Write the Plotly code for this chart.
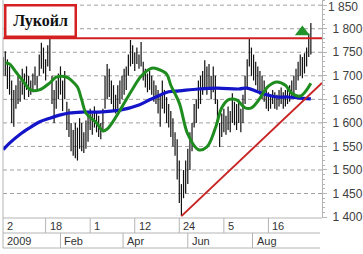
import plotly.graph_objects as go
import pandas as pd

# ---------------- data ----------------
start_date = "2008-12-09"
highs = [1740, 1752, 1735, 1720, 1690, 1670, 1680, 1700, 1690, 1715,
         1705, 1720, 1700, 1690, 1705, 1720, 1700, 1745, 1770, 1760,
         1735, 1765, 1782, 1700, 1670, 1690, 1705, 1720, 1690, 1710,
         1645, 1630, 1600, 1585, 1600, 1590, 1610, 1600, 1580, 1605,
         1625, 1630, 1620, 1635, 1625, 1615, 1600, 1630, 1700, 1725,
         1715, 1690, 1680, 1660, 1680, 1690, 1700, 1715, 1720, 1745,
         1776, 1765, 1750, 1760, 1745, 1772, 1730, 1715, 1705, 1710,
         1700, 1690, 1680, 1670, 1660, 1690, 1670, 1655, 1640, 1625,
         1610, 1580, 1565, 1520, 1470, 1500, 1520, 1545, 1580, 1600,
         1640, 1650, 1690, 1700, 1710, 1733, 1720, 1725, 1700, 1720,
         1700, 1650, 1600, 1620, 1630, 1615, 1635, 1625, 1663, 1645,
         1640, 1650, 1630, 1660, 1700, 1735, 1780, 1760, 1745, 1730,
         1720, 1710, 1700, 1690, 1670, 1665, 1660, 1670, 1665, 1660,
         1670, 1675, 1665, 1670, 1675, 1680, 1690, 1700, 1715, 1730,
         1745, 1740, 1748, 1760, 1790, 1812]
lows = [1700, 1700, 1672, 1660, 1600, 1592, 1630, 1640, 1645, 1660,
        1650, 1670, 1655, 1660, 1665, 1680, 1670, 1700, 1715, 1705,
        1690, 1720, 1710, 1640, 1600, 1630, 1650, 1660, 1625, 1650,
        1585, 1570, 1540, 1530, 1525, 1520, 1545, 1540, 1536, 1545,
        1560, 1585, 1575, 1590, 1580, 1570, 1565, 1580, 1630, 1650,
        1655, 1640, 1625, 1620, 1630, 1640, 1650, 1660, 1670, 1700,
        1720, 1725, 1710, 1725, 1715, 1720, 1690, 1675, 1665, 1670,
        1660, 1645, 1640, 1620, 1592, 1630, 1620, 1600, 1590, 1570,
        1550, 1530, 1480, 1430, 1402, 1440, 1450, 1470, 1500, 1540,
        1590, 1600, 1630, 1640, 1660, 1675, 1660, 1670, 1650, 1665,
        1640, 1600, 1549, 1570, 1580, 1575, 1585, 1580, 1600, 1595,
        1585, 1600, 1580, 1600, 1640, 1670, 1720, 1700, 1690, 1680,
        1670, 1660, 1650, 1645, 1630, 1625, 1630, 1640, 1630, 1628,
        1635, 1640, 1630, 1635, 1640, 1645, 1655, 1660, 1670, 1690,
        1700, 1695, 1705, 1720, 1740, 1745]

# moving averages (bar index -> value)
green_idx = [1, 3, 6, 9, 13, 17, 22, 25, 30, 32, 35, 37, 39, 44, 47, 49, 51,
             56, 61, 65, 70, 73, 77, 79, 83, 87, 92, 96, 100, 103, 106, 110,
             114, 117, 120, 125, 129, 133, 136, 140, 143, 145]
green_val = [1727, 1725, 1708, 1691, 1670, 1670, 1685, 1697, 1697, 1691, 1676,
             1649, 1621, 1600, 1583, 1587, 1598, 1634, 1672, 1699, 1716, 1714,
             1704, 1680, 1642, 1576, 1543, 1549, 1589, 1632, 1649, 1649, 1632,
             1632, 1646, 1678, 1687, 1680, 1663, 1657, 1670, 1684]
blue_idx = [0, 3, 8, 13, 17, 22, 27, 31, 37, 45, 55, 64, 69, 72, 78, 83, 92,
            101, 111, 115, 120, 125, 129, 134, 139, 145]
blue_val = [1543, 1557, 1576, 1591, 1602, 1610, 1617, 1621, 1623, 1623, 1627,
            1638, 1649, 1655, 1666, 1668, 1672, 1674, 1672, 1674, 1666, 1659,
            1655, 1655, 1653, 1651]

resistance = 1780
support_start_idx = 84
support_start_val = 1402
support_end_val = 1685
signal_idx = 141
signal_val = 1793

title_text = "Лукойл"
x_range = ["2008-12-08 20:00", "2009-10-05 12:00"]
y_range = [1398, 1861]
y_ticks = [1400, 1450, 1500, 1550, 1600, 1650, 1700, 1750, 1800, 1850]
day_ticks = [("2", None), ("18", "2009-01-18"), ("1", "2009-03-01"),
             ("12", "2009-04-12"), ("24", "2009-05-24"), ("5", "2009-07-05"),
             ("16", "2009-08-16")]
month_ticks = [("2009", None), ("Feb", "2009-02-01"), ("Apr", "2009-04-01"),
               ("Jun", "2009-06-01"), ("Aug", "2009-08-01")]

# ---------------- figure ----------------
dates = pd.date_range(start_date, periods=len(highs), freq="2D")

bx, by = [], []
for d, h, l in zip(dates, highs, lows):
    bx += [d, d, None]
    by += [l, h, None]

fig = go.Figure()
fig.add_trace(go.Scatter(x=bx, y=by, mode="lines",
                         line=dict(color="#111111", width=1.2),
                         hoverinfo="skip", showlegend=False))
fig.add_trace(go.Scatter(x=[dates[i] for i in blue_idx], y=blue_val, mode="lines",
                         line=dict(color="#1414c8", width=3.2, shape="spline"),
                         showlegend=False))
fig.add_trace(go.Scatter(x=[dates[i] for i in green_idx], y=green_val, mode="lines",
                         line=dict(color="#1e8c1e", width=3, shape="spline"),
                         showlegend=False))
fig.add_trace(go.Scatter(x=x_range, y=[resistance, resistance], mode="lines",
                         line=dict(color="#d02020", width=2), showlegend=False))
fig.add_trace(go.Scatter(x=[dates[support_start_idx], x_range[1]],
                         y=[support_start_val, support_end_val], mode="lines",
                         line=dict(color="#c82424", width=2), showlegend=False))
fig.add_trace(go.Scatter(x=[dates[signal_idx]], y=[signal_val], mode="markers",
                         marker=dict(symbol="triangle-up", size=13, color="#22922a"),
                         showlegend=False))

# plot geometry
W, H = 363, 254
ml, mr, mt, mb = 3, 38, 0, 36
ph = H - mt - mb
row1 = -15 / ph
row2 = -30 / ph
grid = "#a0a0a0"
frame = "#b4b4b4"
tick_font = dict(family="Liberation Sans, Arial", size=12, color="#404040")


def fmt(v):
    return f"{v:,}".replace(",", " ")


shapes = []
# horizontal dashed grid
for v in y_ticks[1:]:
    shapes.append(dict(type="line", xref="paper", yref="y", x0=0, x1=1, y0=v, y1=v,
                       line=dict(color=grid, width=1, dash="4px,3px"), layer="below"))
# x-axis cell frame
shapes.append(dict(type="line", xref="paper", yref="paper", x0=0, x1=1, y0=0, y1=0,
                   line=dict(color=frame, width=1)))
shapes.append(dict(type="line", xref="paper", yref="paper", x0=0, x1=0.994, y0=row1, y1=row1,
                   line=dict(color=frame, width=1)))
shapes.append(dict(type="line", xref="paper", yref="paper", x0=0, x1=0.994, y0=row2, y1=row2,
                   line=dict(color=frame, width=1)))
shapes.append(dict(type="line", xref="paper", yref="paper", x0=0, x1=0, y0=row2, y1=1,
                   line=dict(color=frame, width=1)))
for _, d in day_ticks:
    if d:
        shapes.append(dict(type="line", xref="x", yref="paper", x0=d, x1=d, y0=0, y1=row1,
                           line=dict(color=frame, width=1)))
for _, d in month_ticks:
    if d:
        shapes.append(dict(type="line", xref="x", yref="paper", x0=d, x1=d, y0=row1, y1=row2,
                           line=dict(color=frame, width=1)))

annotations = []
lab_font = dict(family="Liberation Sans, Arial", size=11, color="#333333")
for t, d in day_ticks:
    annotations.append(dict(text=t, x=d if d else 0, xref="x" if d else "paper",
                            y=row1 / 2, yref="paper", xanchor="left", yanchor="middle",
                            xshift=2, showarrow=False, font=lab_font))
for t, d in month_ticks:
    annotations.append(dict(text=t, x=d if d else 0, xref="x" if d else "paper",
                            y=(row1 + row2) / 2, yref="paper", xanchor="left",
                            yanchor="middle", xshift=2, showarrow=False, font=lab_font))
# top tick label, kept inside the page
annotations.append(dict(text=fmt(y_ticks[-1]), x=1, xref="paper", y=1, yref="paper",
                        xanchor="left", yanchor="top", xshift=5, yshift=1,
                        showarrow=False, borderpad=0, font=tick_font))
annotations.append(dict(text="<b>" + title_text + "</b>", x=0, y=1, xref="paper", yref="paper",
                        xanchor="left", yanchor="top", xshift=1, yshift=-4,
                        showarrow=False, width=68, height=29, align="center",
                        bgcolor="white", bordercolor="#d42020", borderwidth=2.5,
                        borderpad=0,
                        font=dict(family="Liberation Serif, Times New Roman", size=16,
                                  color="#111111")))

fig.update_layout(
    width=W, height=H,
    margin=dict(l=ml, r=mr, t=mt, b=mb, pad=0),
    paper_bgcolor="white", plot_bgcolor="white",
    shapes=shapes, annotations=annotations,
    xaxis=dict(range=x_range, showticklabels=False, showgrid=False, zeroline=False,
               ticks="", showline=False, fixedrange=True),
    yaxis=dict(range=y_range, side="right", showgrid=False, zeroline=False,
               tickvals=y_ticks,
               ticktext=[fmt(v) for v in y_ticks[:-1]] + [""],
               ticks="outside", ticklen=4, tickcolor=frame,
               showline=True, linecolor=frame, linewidth=1,
               minor=dict(dtick=10, ticks="outside", ticklen=2, tickcolor=frame),
               tickfont=tick_font,
               ticklabelstandoff=3, fixedrange=True),
)

fig.write_html("out.html")
